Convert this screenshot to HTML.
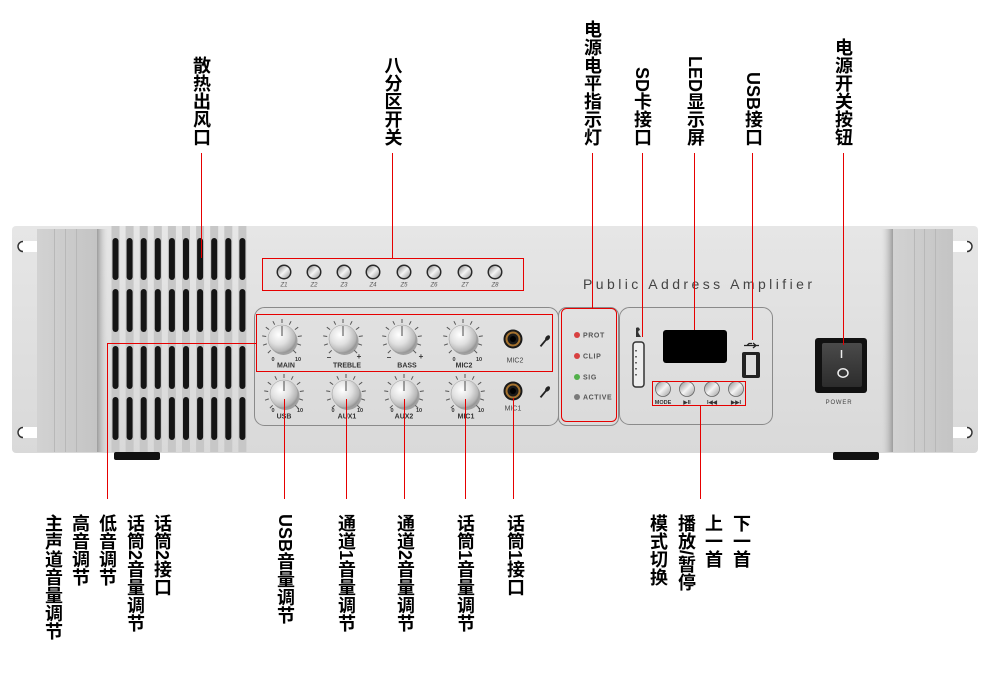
<!DOCTYPE html>
<html><head><meta charset="utf-8">
<style>
html,body{margin:0;padding:0;background:#fff;}
body{width:990px;height:678px;position:relative;overflow:hidden;}
svg{position:absolute;left:0;top:0;}
.v{position:absolute;writing-mode:vertical-rl;font-family:"Liberation Sans","Noto Sans CJK SC",sans-serif;font-weight:bold;font-size:18px;line-height:20px;color:#000;white-space:nowrap;transform:translateX(-50%);}
.t{bottom:532px;}
.b{top:514px;}
</style></head><body>
<svg width="990" height="678" viewBox="0 0 990 678" xmlns="http://www.w3.org/2000/svg">
<defs>
<linearGradient id="pg" x1="0" y1="0" x2="0" y2="1"><stop offset="0" stop-color="#e6e6e6"/><stop offset="1" stop-color="#d9d9d9"/></linearGradient>
<linearGradient id="hg" x1="0" y1="0" x2="1" y2="0"><stop offset="0" stop-color="#d2d2d2"/><stop offset="1" stop-color="#c4c4c4"/></linearGradient>
<linearGradient id="shL" x1="0" y1="0" x2="1" y2="0"><stop offset="0" stop-color="#9c9c9c"/><stop offset="1" stop-color="#d8d8d8" stop-opacity="0"/></linearGradient>
<linearGradient id="shR" x1="1" y1="0" x2="0" y2="0"><stop offset="0" stop-color="#9c9c9c"/><stop offset="1" stop-color="#d8d8d8" stop-opacity="0"/></linearGradient>
<radialGradient id="kg" cx="38%" cy="35%" r="70%"><stop offset="0" stop-color="#ffffff"/><stop offset="0.5" stop-color="#e0e0e0"/><stop offset="0.85" stop-color="#b5b5b5"/><stop offset="1" stop-color="#8a8a8a"/></radialGradient>
<linearGradient id="sg" x1="0" y1="0" x2="1" y2="1"><stop offset="0" stop-color="#8a8a8a"/><stop offset="0.5" stop-color="#f4f4f4"/><stop offset="1" stop-color="#9a9a9a"/></linearGradient>
<linearGradient id="rk" x1="0" y1="0" x2="0" y2="1"><stop offset="0" stop-color="#4a4a4a"/><stop offset="1" stop-color="#2c2c2c"/></linearGradient>
<g id="knob">
 <g stroke="#555" stroke-width="1">
  <line x1="-11.3" y1="11.3" x2="-14.1" y2="14.1"/>
  <line x1="-15.2" y1="4.9" x2="-19" y2="6.2"/>
  <line x1="-15.8" y1="-2.5" x2="-19.8" y2="-3.1"/>
  <line x1="-12.9" y1="-9.4" x2="-16.2" y2="-11.8"/>
  <line x1="-7.3" y1="-14.3" x2="-9.1" y2="-17.8"/>
  <line x1="0" y1="-16" x2="0" y2="-20"/>
  <line x1="7.3" y1="-14.3" x2="9.1" y2="-17.8"/>
  <line x1="12.9" y1="-9.4" x2="16.2" y2="-11.8"/>
  <line x1="15.8" y1="-2.5" x2="19.8" y2="-3.1"/>
  <line x1="15.2" y1="4.9" x2="19" y2="6.2"/>
  <line x1="11.3" y1="11.3" x2="14.1" y2="14.1"/>
 </g>
 <circle cx="1.5" cy="2" r="14" fill="#555" opacity="0.45"/>
 <circle cx="0" cy="0" r="14" fill="url(#kg)" stroke="#999" stroke-width="0.5"/>
 <line x1="0" y1="-3" x2="0" y2="-13" stroke="#666" stroke-width="1.2"/>
</g>
<g id="zs">
 <circle r="7.5" fill="#2a2a2a"/>
 <circle r="6" fill="url(#sg)"/>
</g>
<g id="btn">
 <circle r="7.5" fill="url(#sg)" stroke="#666" stroke-width="0.8"/>
</g>
<g id="jack">
 <circle r="9.5" fill="#1a1a1a"/>
 <circle r="7.5" fill="#a6732f"/>
 <circle r="5.5" fill="#1a1a1a"/>
 <circle r="3" fill="#000"/>
</g>
<g id="mic">
 <rect x="-0.9" y="-2" width="1.8" height="9" fill="#222"/>
 <ellipse cx="0" cy="-4" rx="2" ry="3" fill="#222"/>
</g>
</defs>

<!-- chassis -->
<rect x="12" y="226" width="966" height="227" rx="4" fill="url(#pg)"/>
<!-- ear holes -->
<rect x="17" y="241" width="26" height="11" rx="5.5" fill="#fff"/>
<path d="M23 241.5 A5 5 0 0 0 23 251.5" stroke="#333" stroke-width="1.5" fill="none"/>
<rect x="17" y="427" width="26" height="11" rx="5.5" fill="#fff"/>
<path d="M23 427.5 A5 5 0 0 0 23 437.5" stroke="#333" stroke-width="1.5" fill="none"/>
<rect x="947" y="241" width="26" height="11" rx="5.5" fill="#fff"/>
<path d="M967 241.5 A5 5 0 0 1 967 251.5" stroke="#333" stroke-width="1.5" fill="none"/>
<rect x="947" y="427" width="26" height="11" rx="5.5" fill="#fff"/>
<path d="M967 427.5 A5 5 0 0 1 967 437.5" stroke="#333" stroke-width="1.5" fill="none"/>

<!-- left handle -->
<rect x="97" y="229" width="11" height="223" fill="url(#shL)"/>
<rect x="37" y="229" width="60" height="223" fill="url(#hg)"/>
<g stroke="#b8b8b8" stroke-width="1"><line x1="54.5" y1="229" x2="54.5" y2="452"/><line x1="65.5" y1="229" x2="65.5" y2="452"/><line x1="76.5" y1="229" x2="76.5" y2="452"/></g>
<!-- right handle -->
<rect x="881" y="229" width="12" height="223" fill="url(#shR)"/>
<rect x="893" y="229" width="60" height="223" fill="url(#hg)"/>
<g stroke="#b8b8b8" stroke-width="1"><line x1="914.5" y1="229" x2="914.5" y2="452"/><line x1="924.5" y1="229" x2="924.5" y2="452"/><line x1="935.5" y1="229" x2="935.5" y2="452"/></g>

<!-- feet -->
<rect x="114" y="452" width="46" height="8" rx="2" fill="#111"/>
<rect x="833" y="452" width="46" height="8" rx="2" fill="#111"/>

<!-- vent stripes -->
<g fill="#c7c7c7">
<rect x="111.5" y="226" width="8" height="226"/><rect x="125.6" y="226" width="8" height="226"/><rect x="139.7" y="226" width="8" height="226"/><rect x="153.8" y="226" width="8" height="226"/><rect x="167.9" y="226" width="8" height="226"/><rect x="182" y="226" width="8" height="226"/><rect x="196.1" y="226" width="8" height="226"/><rect x="210.2" y="226" width="8" height="226"/><rect x="224.3" y="226" width="8" height="226"/><rect x="238.4" y="226" width="8" height="226"/>
</g>
<g fill="#151515">
<rect x="112.5" y="238" width="6" height="42" rx="3"/><rect x="126.6" y="238" width="6" height="42" rx="3"/><rect x="140.7" y="238" width="6" height="42" rx="3"/><rect x="154.8" y="238" width="6" height="42" rx="3"/><rect x="168.9" y="238" width="6" height="42" rx="3"/><rect x="183" y="238" width="6" height="42" rx="3"/><rect x="197.1" y="238" width="6" height="42" rx="3"/><rect x="211.2" y="238" width="6" height="42" rx="3"/><rect x="225.3" y="238" width="6" height="42" rx="3"/><rect x="239.4" y="238" width="6" height="42" rx="3"/>
<rect x="112.5" y="289" width="6" height="43" rx="3"/><rect x="126.6" y="289" width="6" height="43" rx="3"/><rect x="140.7" y="289" width="6" height="43" rx="3"/><rect x="154.8" y="289" width="6" height="43" rx="3"/><rect x="168.9" y="289" width="6" height="43" rx="3"/><rect x="183" y="289" width="6" height="43" rx="3"/><rect x="197.1" y="289" width="6" height="43" rx="3"/><rect x="211.2" y="289" width="6" height="43" rx="3"/><rect x="225.3" y="289" width="6" height="43" rx="3"/><rect x="239.4" y="289" width="6" height="43" rx="3"/>
<rect x="112.5" y="346" width="6" height="43" rx="3"/><rect x="126.6" y="346" width="6" height="43" rx="3"/><rect x="140.7" y="346" width="6" height="43" rx="3"/><rect x="154.8" y="346" width="6" height="43" rx="3"/><rect x="168.9" y="346" width="6" height="43" rx="3"/><rect x="183" y="346" width="6" height="43" rx="3"/><rect x="197.1" y="346" width="6" height="43" rx="3"/><rect x="211.2" y="346" width="6" height="43" rx="3"/><rect x="225.3" y="346" width="6" height="43" rx="3"/><rect x="239.4" y="346" width="6" height="43" rx="3"/>
<rect x="112.5" y="397" width="6" height="43" rx="3"/><rect x="126.6" y="397" width="6" height="43" rx="3"/><rect x="140.7" y="397" width="6" height="43" rx="3"/><rect x="154.8" y="397" width="6" height="43" rx="3"/><rect x="168.9" y="397" width="6" height="43" rx="3"/><rect x="183" y="397" width="6" height="43" rx="3"/><rect x="197.1" y="397" width="6" height="43" rx="3"/><rect x="211.2" y="397" width="6" height="43" rx="3"/><rect x="225.3" y="397" width="6" height="43" rx="3"/><rect x="239.4" y="397" width="6" height="43" rx="3"/>
</g>

<!-- zone switches -->
<use href="#zs" x="284" y="272"/><use href="#zs" x="314" y="272"/><use href="#zs" x="344" y="272"/><use href="#zs" x="373" y="272"/><use href="#zs" x="404" y="272"/><use href="#zs" x="434" y="272"/><use href="#zs" x="465" y="272"/><use href="#zs" x="495" y="272"/>
<g font-family="Liberation Sans, sans-serif" font-size="6" font-style="italic" fill="#555" text-anchor="middle">
<text x="284" y="286.5">Z1</text><text x="314" y="286.5">Z2</text><text x="344" y="286.5">Z3</text><text x="373" y="286.5">Z4</text><text x="404" y="286.5">Z5</text><text x="434" y="286.5">Z6</text><text x="465" y="286.5">Z7</text><text x="495" y="286.5">Z8</text>
</g>

<!-- brand -->
<text x="583" y="289" font-family="Liberation Sans, sans-serif" font-size="14" fill="#444" textLength="229" lengthAdjust="spacing">Public Address Amplifier</text>

<!-- panels -->
<rect x="254.5" y="307.5" width="304" height="118" rx="10" fill="none" stroke="#8a8a8a" stroke-width="1"/>
<rect x="558.5" y="307.5" width="60" height="118" rx="8" fill="none" stroke="#8a8a8a" stroke-width="1"/>
<rect x="619.5" y="307.5" width="153" height="117" rx="10" fill="none" stroke="#8a8a8a" stroke-width="1"/>

<!-- knobs -->
<use href="#knob" x="282" y="339"/><use href="#knob" x="343" y="339"/><use href="#knob" x="402" y="339"/><use href="#knob" x="463" y="339"/>
<use href="#knob" x="284" y="394"/><use href="#knob" x="346" y="394"/><use href="#knob" x="404" y="394"/><use href="#knob" x="465" y="394"/>
<g font-family="Liberation Sans, sans-serif" font-weight="bold" fill="#333" text-anchor="middle">
 <g font-size="7">
 <text x="286" y="367.5">MAIN</text><text x="347" y="367.5">TREBLE</text><text x="407" y="367.5">BASS</text><text x="464" y="367.5">MIC2</text>
 <text x="284" y="418.5">USB</text><text x="347" y="418.5">AUX1</text><text x="404" y="418.5">AUX2</text><text x="466" y="418.5">MIC1</text>
 </g>
 <g font-size="5.5">
 <text x="273" y="361">0</text><text x="298" y="361">10</text>
 <text x="454" y="361">0</text><text x="479" y="361">10</text>
 <text x="273" y="412">0</text><text x="300" y="412">10</text>
 <text x="333" y="412">0</text><text x="360" y="412">10</text>
 <text x="392" y="412">0</text><text x="419" y="412">10</text>
 <text x="453" y="412">0</text><text x="481" y="412">10</text>
 </g>
 <g font-size="8">
 <text x="329" y="360">–</text><text x="359" y="359">+</text>
 <text x="389" y="360">–</text><text x="421" y="359">+</text>
 </g>
</g>
<!-- jacks -->
<use href="#jack" x="513" y="339"/><use href="#jack" x="513" y="391"/>
<g font-family="Liberation Sans, sans-serif" font-size="7" fill="#444" text-anchor="middle">
<text x="515" y="362.5">MIC2</text><text x="513" y="410.5">MIC1</text>
</g>
<g transform="translate(545,341) rotate(40)"><use href="#mic"/></g>
<g transform="translate(545,392) rotate(40)"><use href="#mic"/></g>

<!-- LEDs -->
<circle cx="577" cy="335" r="3" fill="#d84040"/>
<circle cx="577" cy="356" r="3" fill="#d84040"/>
<circle cx="577" cy="377" r="3" fill="#52b04a"/>
<circle cx="577" cy="397" r="3" fill="#7a7a7a"/>
<g font-family="Liberation Sans, sans-serif" font-size="7" font-weight="bold" fill="#555" letter-spacing="0.6">
<text x="583" y="337.5">PROT</text><text x="583" y="358.5">CLIP</text><text x="583" y="379.5">SIG</text><text x="583" y="399.5">ACTIVE</text>
</g>

<!-- display area -->
<rect x="663" y="330" width="64" height="33" rx="3" fill="#000"/>
<rect x="633" y="342" width="11" height="45" rx="3" fill="#eee" stroke="#333" stroke-width="1.5"/>
<g fill="#666"><rect x="635" y="350" width="2" height="1.5"/><rect x="635" y="356" width="2" height="1.5"/><rect x="635" y="362" width="2" height="1.5"/><rect x="635" y="368" width="2" height="1.5"/><rect x="635" y="374" width="2" height="1.5"/></g>
<path d="M636 328 q3 -2 4 2 q-3 1 -1 4 l2 3 l-5 0 z" fill="#333"/>
<rect x="742" y="352" width="18" height="26" rx="2" fill="#222"/>
<rect x="746" y="355" width="10" height="20" fill="#ddd"/>
<path d="M744 345.5 h15 M753 343 l3 2.5 l-3 2.5 M747 345.5 l2 -2 h3" stroke="#222" stroke-width="1.3" fill="none"/>
<use href="#btn" x="663" y="389"/><use href="#btn" x="687" y="389"/><use href="#btn" x="712" y="389"/><use href="#btn" x="736" y="389"/>
<g font-family="Liberation Sans, sans-serif" font-size="5.5" font-weight="bold" fill="#333" text-anchor="middle">
<text x="663" y="404">MODE</text><text x="687" y="404">▶II</text><text x="712" y="404">I◀◀</text><text x="736" y="404">▶▶I</text>
</g>

<!-- power switch -->
<rect x="815" y="338" width="52" height="55" rx="3" fill="#111"/>
<rect x="822" y="343" width="40" height="44" rx="2" fill="url(#rk)"/>
<line x1="841.5" y1="350" x2="841.5" y2="358" stroke="#eee" stroke-width="1.5"/>
<ellipse cx="843" cy="373" rx="5" ry="4.2" fill="none" stroke="#eee" stroke-width="1.5"/>
<text x="839" y="404" font-family="Liberation Sans, sans-serif" font-size="6" fill="#444" text-anchor="middle" letter-spacing="0.8">POWER</text>

<!-- red annotations -->
<g stroke="#e60000" stroke-width="1" fill="none">
<line x1="201.5" y1="153" x2="201.5" y2="258"/>
<line x1="392.5" y1="153" x2="392.5" y2="258"/>
<line x1="592.5" y1="153" x2="592.5" y2="308"/>
<line x1="642.5" y1="153" x2="642.5" y2="337"/>
<line x1="694.5" y1="153" x2="694.5" y2="330"/>
<line x1="752.5" y1="153" x2="752.5" y2="340"/>
<line x1="843.5" y1="153" x2="843.5" y2="345"/>
<line x1="107.5" y1="343.5" x2="107.5" y2="499"/>
<line x1="107" y1="343.5" x2="256" y2="343.5"/>
<line x1="284.5" y1="399" x2="284.5" y2="499"/>
<line x1="346.5" y1="399" x2="346.5" y2="499"/>
<line x1="404.5" y1="399" x2="404.5" y2="499"/>
<line x1="465.5" y1="399" x2="465.5" y2="499"/>
<line x1="513.5" y1="398" x2="513.5" y2="499"/>
<line x1="700.5" y1="406" x2="700.5" y2="499"/>
<rect x="262.5" y="258.5" width="261" height="32"/>
<rect x="256.5" y="314.5" width="296" height="57"/>
<rect x="561.5" y="308.5" width="55" height="113" rx="5"/>
<rect x="652.5" y="381.5" width="93" height="24"/>
</g>
</svg>

<div class="v t" style="left:201px">散热出风口</div>
<div class="v t" style="left:392.5px">八分区开关</div>
<div class="v t" style="left:592px">电源电平指示灯</div>
<div class="v t" style="left:642px">SD卡接口</div>
<div class="v t" style="left:695px">LED显示屏</div>
<div class="v t" style="left:753px">USB接口</div>
<div class="v t" style="left:843px">电源开关按钮</div>

<div class="v b" style="left:53px">主声道音量调节</div>
<div class="v b" style="left:80px">高音调节</div>
<div class="v b" style="left:107px">低音调节</div>
<div class="v b" style="left:135px">话筒2音量调节</div>
<div class="v b" style="left:162px">话筒2接口</div>
<div class="v b" style="left:285px">USB音量调节</div>
<div class="v b" style="left:346px">通道1音量调节</div>
<div class="v b" style="left:405px">通道2音量调节</div>
<div class="v b" style="left:465px">话筒1音量调节</div>
<div class="v b" style="left:515px">话筒1接口</div>
<div class="v b" style="left:658px">模式切换</div>
<div class="v b" style="left:686px">播放/暂停</div>
<div class="v b" style="left:713px">上一首</div>
<div class="v b" style="left:741px">下一首</div>
</body></html>
